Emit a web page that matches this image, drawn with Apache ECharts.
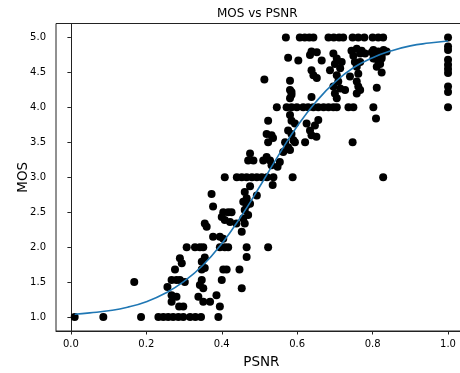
<!DOCTYPE html>
<html>
<head>
<meta charset="utf-8">
<script src="https://cdn.jsdelivr.net/npm/echarts@6/dist/echarts.min.js"></script>
<style>
html,body{margin:0;padding:0;background:#fff;}
#chart{width:460px;height:373px;}
</style>
</head>
<body>
<div id="chart"></div>
<script>
// Scatter points
const psnr = [
0.010,0.086,0.168,0.186,
0.232,0.245,0.258,0.271,0.285,0.298,0.316,0.330,0.345,0.391,
0.256,0.267,0.280,0.289,0.302,0.276,0.289,0.294,0.267,0.280,0.287,0.298,0.267,
0.307,0.329,0.342,0.351,0.338,0.351,0.369,0.347,0.342,0.351,0.347,0.355,0.355,0.347,
0.386,0.395,0.400,0.404,0.413,0.447,0.453,0.466,
0.395,0.408,0.417,0.466,0.523,0.377,0.395,0.404,0.453,0.355,0.360,
0.404,0.417,0.400,0.408,0.422,0.426,0.439,0.470,0.461,0.457,0.466,0.461,
0.377,0.373,0.461,0.466,0.457,0.475,0.493,0.475,0.535,
0.408,0.440,0.453,0.466,0.480,0.493,0.506,0.520,0.537,0.588,0.828,
0.475,0.470,0.484,0.510,0.519,0.528,0.532,0.554,0.548,
0.563,0.581,0.576,0.568,0.590,0.594,0.585,0.576,0.621,
0.519,0.532,0.523,0.536,0.523,0.581,0.585,0.594,0.625,
0.656,0.647,0.634,0.638,0.651,0.747,0.809,
0.546,0.572,0.585,0.599,0.616,0.629,0.643,0.656,0.670,0.683,0.696,0.705,0.736,0.749,0.802,1.000,
0.585,0.638,0.581,0.585,0.581,0.513,0.581,
0.638,0.643,0.652,0.687,0.705,0.709,0.696,0.714,0.727,0.700,0.705,
0.740,0.758,0.762,0.767,0.758,0.811,
0.576,0.603,0.638,0.634,0.665,0.652,0.696,0.705,0.700,0.718,0.714,
0.744,0.758,0.771,0.749,0.767,0.780,0.798,0.811,0.824,0.753,0.767,0.802,0.815,
0.758,0.762,0.820,0.824,0.802,0.815,0.829,0.837,0.806,0.824,0.811,
0.570,0.607,0.620,0.632,0.643,0.683,0.697,0.711,0.722,0.747,0.762,0.778,0.800,0.815,0.828,1.000,
1.000,1.000,1.000,1.000,1.000,1.000,1.000,1.000
];
const mos = [
1.00,1.00,1.50,1.00,
1.00,1.00,1.00,1.00,1.00,1.00,1.00,1.00,1.00,1.00,
1.43,1.53,1.53,1.53,1.50,1.68,1.84,1.77,1.22,1.29,1.15,1.15,1.31,
2.00,2.00,2.00,2.00,1.29,1.22,1.22,1.53,1.46,1.41,1.68,1.70,1.85,1.79,
1.31,1.15,1.53,1.68,1.68,1.68,1.41,1.86,
2.00,2.00,2.00,2.00,2.00,2.15,2.15,2.12,2.22,2.34,2.29,
2.50,2.50,2.43,2.39,2.36,2.50,2.34,2.46,2.34,2.41,2.60,2.53,
2.58,2.76,2.79,2.70,2.65,2.62,2.74,2.87,2.89,
3.00,3.00,3.00,3.00,3.00,3.00,3.00,3.00,3.00,3.00,3.00,
3.34,3.24,3.24,3.24,3.29,3.24,3.17,3.22,3.15,
3.36,3.39,3.43,3.50,3.53,3.50,3.62,3.67,3.50,
3.62,3.60,3.50,3.56,3.81,3.89,3.81,3.77,3.77,
3.82,3.74,3.67,3.60,3.58,3.50,3.84,
4.00,4.00,4.00,4.00,4.00,4.00,4.00,4.00,4.00,4.00,4.00,4.00,4.00,4.00,4.00,4.00,
4.22,4.15,4.25,4.18,4.13,4.40,4.38,
4.53,4.46,4.42,4.53,4.46,4.37,4.30,4.27,4.25,4.20,4.13,
4.44,4.37,4.30,4.25,4.20,4.28,
4.71,4.67,4.80,4.75,4.67,4.79,4.77,4.70,4.62,4.65,4.56,
4.81,4.84,4.81,4.74,4.77,4.77,4.79,4.77,4.74,4.65,4.65,4.70,4.67,
4.58,4.48,4.62,4.50,4.82,4.80,4.82,4.80,4.70,4.70,4.58,
5.00,5.00,5.00,5.00,5.00,5.00,5.00,5.00,5.00,5.00,5.00,5.00,5.00,5.00,5.00,5.00,
4.87,4.82,4.68,4.61,4.55,4.49,4.30,4.22
];
// Fitted curve
const curveX = [0.01,0.05,0.10,0.15,0.20,0.25,0.30,0.35,0.40,0.45,0.50,0.55,0.60,0.65,0.70,0.75,0.80,0.85,0.90,0.95,1.00];
const curveY = [1.04,1.06,1.09,1.14,1.22,1.34,1.51,1.74,2.05,2.43,2.86,3.31,3.73,4.08,4.36,4.57,4.71,4.81,4.88,4.92,4.95];
// Tick labels
const xTicks = [0.0,0.2,0.4,0.6,0.8,1.0];
const yTicks = [1.0,1.5,2.0,2.5,3.0,3.5,4.0,4.5,5.0];

const points = psnr.map((x,i)=>[x,mos[i]]);
const curve = curveX.map((x,i)=>[x,curveY[i]]);
const FONT = 'DejaVu Sans';

const chart = echarts.init(document.getElementById('chart'), null, {renderer:'canvas'});
chart.setOption({
  animation:false,
  backgroundColor:'#ffffff',
  title:{
    text:'MOS vs PSNR', left:217, top:8, padding:0,
    textStyle:{fontFamily:FONT, fontSize:12, fontWeight:'normal', color:'#000'}
  },
  grid:{left:56, top:23.5, width:410.7, height:307.5, outerBoundsMode:'none', containLabel:false,
        show:true, borderColor:'#222', borderWidth:1, backgroundColor:'transparent'},
  xAxis:{
    type:'value', min:-0.0395, max:1.0495,
    name:'PSNR', nameLocation:'middle', nameGap:24, nameMoveOverlap:false,
    nameTextStyle:{fontFamily:FONT, fontSize:13.5, color:'#000'},
    axisLine:{show:true, lineStyle:{color:'#222', width:1}},
    axisTick:{show:true, length:3.5, customValues:xTicks, lineStyle:{color:'#222'}},
    axisLabel:{customValues:xTicks, margin:8, fontFamily:FONT, fontSize:10, color:'#000', formatter:v=>v.toFixed(1)},
    splitLine:{show:false}
  },
  yAxis:{
    type:'value', min:0.8, max:5.2,
    name:'MOS', nameLocation:'middle', nameGap:26, nameMoveOverlap:false,
    nameTextStyle:{fontFamily:FONT, fontSize:13.5, color:'#000'},
    axisLine:{show:true, lineStyle:{color:'#222', width:1}},
    axisTick:{show:true, length:3.5, customValues:yTicks, lineStyle:{color:'#222'}},
    axisLabel:{customValues:yTicks, margin:10, fontFamily:FONT, fontSize:10, color:'#000', formatter:v=>v.toFixed(1)},
    splitLine:{show:false}
  },
  series:[
    {type:'scatter', data:points, symbol:'circle', symbolSize:8, itemStyle:{color:'#000', opacity:1}, z:2, silent:true},
    {type:'line', data:curve, smooth:true, showSymbol:false, lineStyle:{color:'#1f77b4', width:1.6}, z:3, silent:true}
  ]
});
</script>
</body>
</html>
